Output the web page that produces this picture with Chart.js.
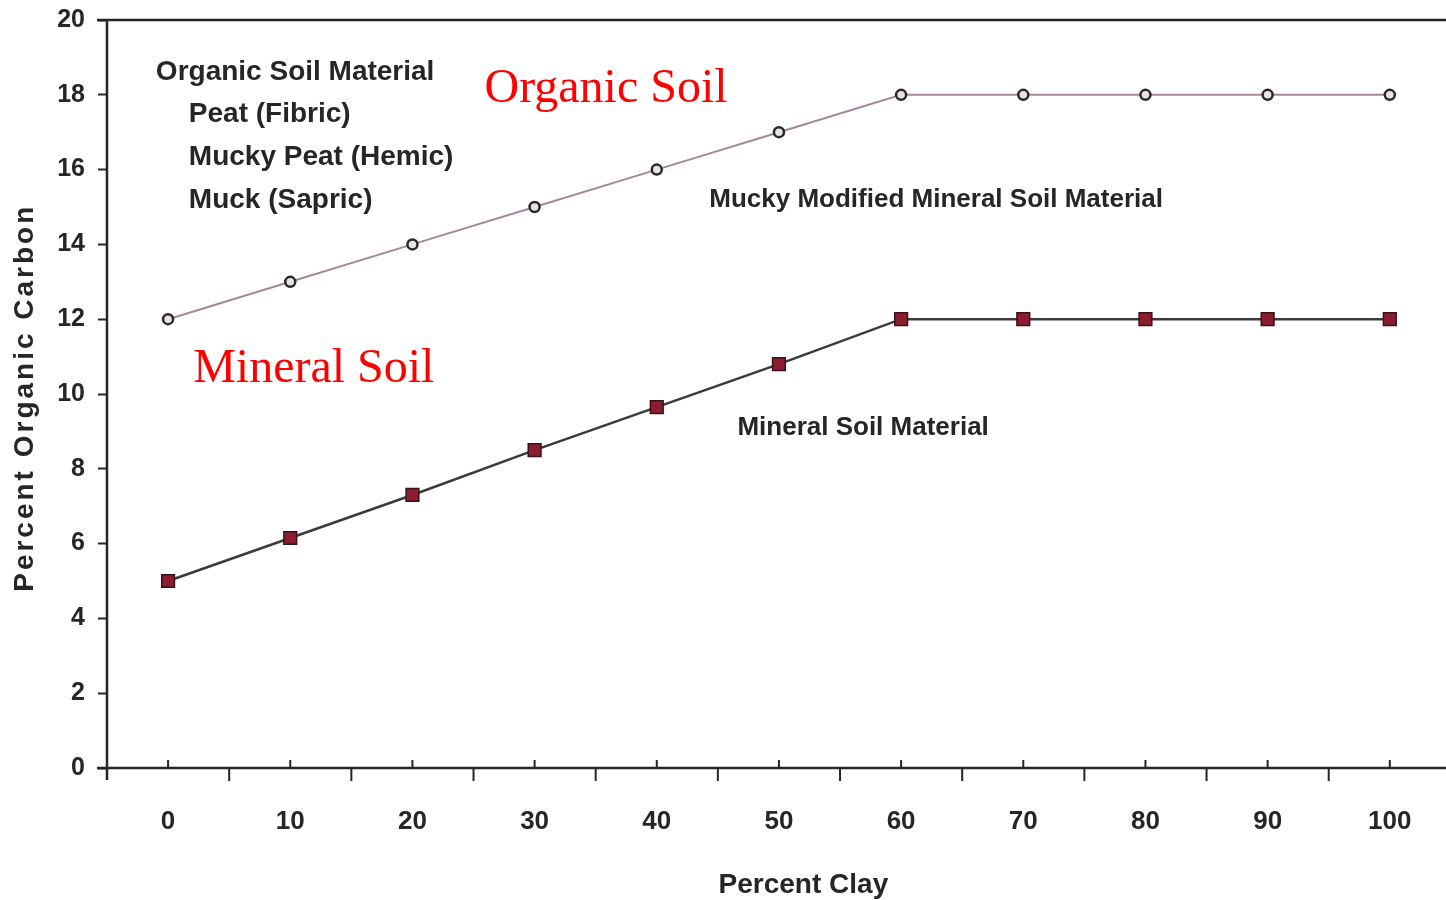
<!DOCTYPE html>
<html lang="en">
<head>
<meta charset="UTF-8">
<title>Percent Organic Carbon vs Percent Clay</title>
<script src="https://cdn.jsdelivr.net/npm/chart.js"></script>
<style>
  html, body { margin: 0; padding: 0; background: #fff; }
  canvas { display: block; }
</style>
</head>
<body>
<canvas id="chart" width="1446" height="900"></canvas>
<script>
// data
const clay = [0, 10, 20, 30, 40, 50, 60, 70, 80, 90, 100];
const organicSoil = [12, 13, 14, 15, 16, 17, 18, 18, 18, 18, 18];
const mineralSoil = [5, 6.15, 7.3, 8.5, 9.65, 10.8, 12, 12, 12, 12, 12];
const yTicks = [0, 2, 4, 6, 8, 10, 12, 14, 16, 18, 20];
const minorClay = [5, 15, 25, 35, 45, 55, 65, 75, 85, 95];

const inkColor = '#262626';
const boldSans = 'bold 28px "Liberation Sans", Arial, sans-serif';
const smallSans = 'bold 26px "Liberation Sans", Arial, sans-serif';
const redSerif = '48px "Liberation Serif", "Times New Roman", serif';

// text placed in data coordinates (on baseline)
const notes = [
  { text: 'Organic Soil Material', x: -1, y: 18.4, font: boldSans, color: inkColor },
  { text: 'Peat (Fibric)', x: 1.7, y: 17.27, font: boldSans, color: inkColor },
  { text: 'Mucky Peat (Hemic)', x: 1.7, y: 16.13, font: boldSans, color: inkColor },
  { text: 'Muck (Sapric)', x: 1.7, y: 14.98, font: boldSans, color: inkColor },
  { text: 'Organic Soil', x: 25.9, y: 17.8, font: redSerif, color: '#ff0000' },
  { text: 'Mineral Soil', x: 2.05, y: 10.33, font: redSerif, color: '#ff0000' },
  { text: 'Mucky Modified Mineral Soil Material', x: 44.3, y: 15.0, font: smallSans, color: inkColor },
  { text: 'Mineral Soil Material', x: 46.6, y: 8.9, font: smallSans, color: inkColor },
  { text: 'Percent Clay', x: 52, y: -3.35, font: boldSans, color: inkColor, align: 'center' }
];

const toPoints = ys => clay.map((x, i) => ({ x: x, y: ys[i] }));

// frame: top rule, axis lines, x tick marks (major up, minor down), texts
const framePlugin = {
  id: 'frame',
  beforeDatasetsDraw(chart) {
    const { ctx, chartArea: a, scales: { x } } = chart;
    ctx.save();
    ctx.strokeStyle = inkColor;
    ctx.lineWidth = 2.5;
    ctx.beginPath();
    ctx.moveTo(a.left - 10, a.top); ctx.lineTo(a.right, a.top);
    ctx.moveTo(a.left - 10, a.bottom); ctx.lineTo(a.right, a.bottom);
    ctx.moveTo(a.left, a.top); ctx.lineTo(a.left, a.bottom + 12);
    ctx.stroke();
    ctx.lineWidth = 2;
    ctx.beginPath();
    clay.forEach(v => {
      const px = x.getPixelForValue(v);
      ctx.moveTo(px, a.bottom); ctx.lineTo(px, a.bottom - 8);
    });
    minorClay.forEach(v => {
      const px = x.getPixelForValue(v);
      ctx.moveTo(px, a.bottom); ctx.lineTo(px, a.bottom + 13);
    });
    ctx.stroke();
    ctx.restore();
  },
  afterDraw(chart) {
    const { ctx, scales: { x, y } } = chart;
    ctx.save();
    notes.forEach(n => {
      ctx.font = n.font;
      ctx.fillStyle = n.color;
      ctx.textAlign = n.align || 'left';
      ctx.textBaseline = 'alphabetic';
      ctx.fillText(n.text, x.getPixelForValue(n.x), y.getPixelForValue(n.y));
    });
    // y axis title, slightly spaced out like the original
    ctx.translate(33, y.getPixelForValue(9.9));
    ctx.rotate(-Math.PI / 2);
    ctx.font = boldSans;
    ctx.letterSpacing = '3px';
    ctx.fillStyle = inkColor;
    ctx.textAlign = 'center';
    ctx.textBaseline = 'alphabetic';
    ctx.fillText('Percent Organic Carbon', 0, 0);
    ctx.restore();
  }
};

new Chart(document.getElementById('chart'), {
  type: 'line',
  data: {
    datasets: [
      {
        label: 'Organic soil limit',
        data: toPoints(organicSoil),
        borderColor: '#a8879a',
        borderWidth: 2,
        pointStyle: 'circle',
        pointRadius: 5,
        pointBackgroundColor: '#e8e4e6',
        pointBorderColor: '#2a2a2a',
        pointBorderWidth: 2.5,
        tension: 0
      },
      {
        label: 'Mineral soil limit',
        data: toPoints(mineralSoil),
        borderColor: '#3a3a3a',
        borderWidth: 2.5,
        pointStyle: 'rect',
        pointRadius: 9,
        pointBackgroundColor: '#8c1d30',
        pointBorderColor: '#3b1019',
        pointBorderWidth: 1.5,
        tension: 0
      }
    ]
  },
  options: {
    responsive: false,
    animation: false,
    layout: { autoPadding: false, padding: { top: 20, right: 0, left: 0, bottom: 0 } },
    plugins: { legend: { display: false }, tooltip: { enabled: false } },
    scales: {
      x: {
        type: 'linear',
        min: -5,
        max: 104.6,
        afterBuildTicks: s => { s.ticks = clay.map(v => ({ value: v })); },
        afterFit: s => { s.height = 132; s.paddingLeft = 0; s.paddingRight = 0; },
        grid: { display: false, drawTicks: false },
        border: { display: false },
        ticks: {
          font: { family: '"Liberation Sans", Arial, sans-serif', size: 26, weight: 'bold' },
          color: inkColor,
          padding: 38,
          maxRotation: 0
        }
      },
      y: {
        min: 0,
        max: 20,
        afterBuildTicks: s => { s.ticks = yTicks.map(v => ({ value: v })); },
        afterFit: s => { s.width = 107; s.paddingTop = 0; s.paddingBottom = 0; },
        grid: { drawOnChartArea: false, drawTicks: true, tickLength: 9, tickColor: inkColor, tickWidth: 2 },
        border: { display: false },
        ticks: {
          font: { family: '"Liberation Sans", Arial, sans-serif', size: 25, weight: 'bold' },
          color: inkColor,
          padding: 13
        }
      }
    }
  },
  plugins: [framePlugin]
});
</script>
</body>
</html>
